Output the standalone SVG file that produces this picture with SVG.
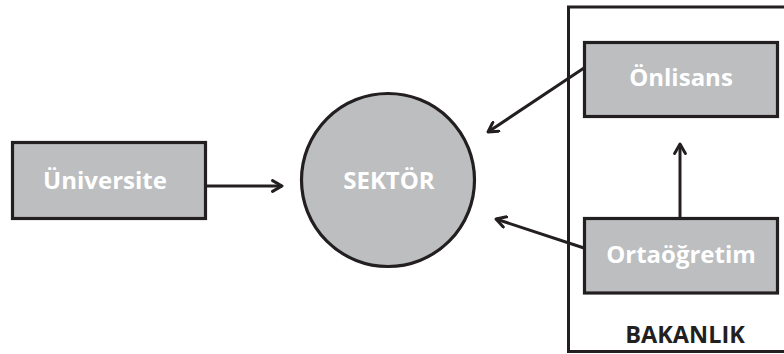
<svg xmlns="http://www.w3.org/2000/svg" width="784" height="354" viewBox="0 0 784 354">
<style>
.box{fill:#bcbec0;stroke:#231f20;stroke-width:3.2}
.lbl{font-family:"Open Sans","DejaVu Sans",sans-serif;font-weight:bold;font-size:24px;fill:#ffffff;text-anchor:middle}
.conn{stroke:#231f20;stroke-width:3;fill:none;marker-end:url(#arr)}
</style>
<defs>
<marker id="arr" viewBox="0 0 10 10" refX="8" refY="5" markerWidth="4.5" markerHeight="4.5" orient="auto" markerUnits="strokeWidth">
<path d="M1,1 L8,5 L1,9" fill="none" stroke="#231f20" stroke-width="2.2" stroke-linecap="round" stroke-linejoin="round"/>
</marker>
</defs>
<rect width="784" height="354" fill="#ffffff"/>
<g id="bakanlik">
<rect x="568.5" y="7" width="230" height="344.5" fill="none" stroke="#231f20" stroke-width="3"/>
<text x="685" y="343" font-family="'Open Sans','DejaVu Sans',sans-serif" font-weight="bold" font-size="23.5" fill="#231f20" text-anchor="middle">BAKANLIK</text>
</g>
<g id="universite">
<rect class="box" x="12.5" y="142.5" width="193" height="76"/>
<text class="lbl" x="105" y="189">Üniversite</text>
</g>
<g id="sektor">
<circle class="box" cx="388" cy="180" r="86.5"/>
<text class="lbl" x="389" y="189" font-size="24.5">SEKTÖR</text>
</g>
<g id="onlisans">
<rect class="box" x="584.5" y="42.5" width="193" height="74"/>
<text class="lbl" x="681" y="86">Önlisans</text>
</g>
<g id="ortaogretim">
<rect class="box" x="584.5" y="218.5" width="193" height="74.5"/>
<text class="lbl" x="681" y="263">Ortaöğretim</text>
</g>
<g id="connectors">
<line class="conn" x1="206" y1="186" x2="282" y2="186"/>
<line class="conn" x1="584" y1="68" x2="488" y2="132"/>
<line class="conn" x1="584" y1="248" x2="496" y2="219"/>
<line class="conn" x1="680" y1="218" x2="680" y2="144"/>
</g>
</svg>
